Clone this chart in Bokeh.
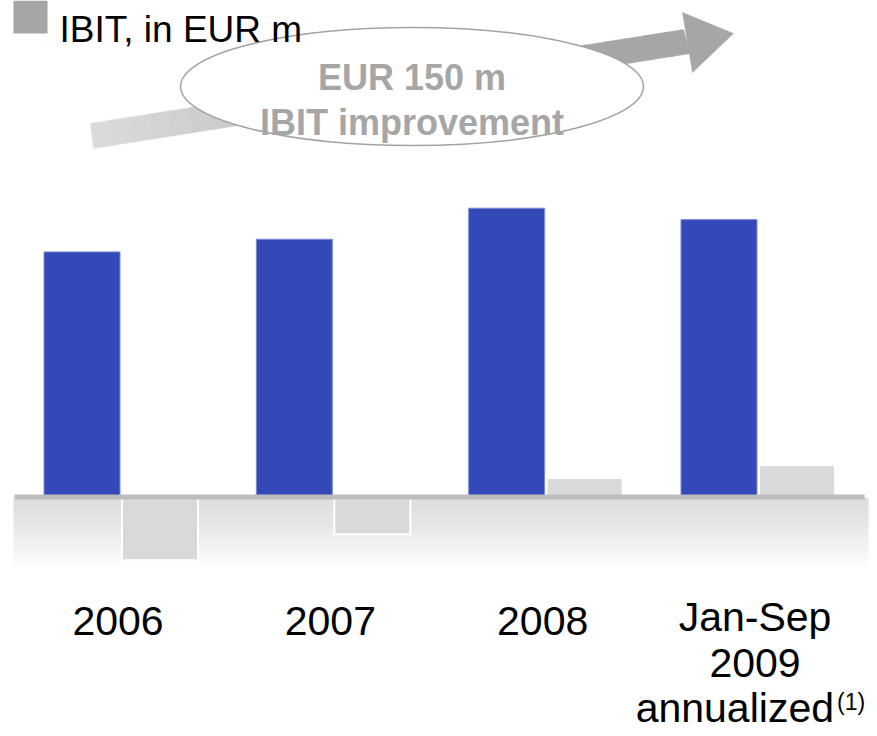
from bokeh.plotting import figure
from bokeh.models import Range1d, ColumnDataSource
from bokeh.core.properties import value
from bokeh.embed import file_html
from bokeh.resources import INLINE

# ---------------- data ----------------
categories = ["2006", "2007", "2008", "Jan-Sep\n2009\nannualized"]
footnote = "(1)"
blue_values = [387, 407, 456, 438]          # unlabelled blue series
ibit_values = [-100, -59, 30, 50]           # IBIT, in EUR m
legend_label = "IBIT, in EUR m"
callout_lines = ["EUR 150 m", "IBIT improvement"]

# ---------------- layout helpers ----------------
W, H = 877, 736
FONT = "Liberation Sans"
LABEL_PX = 41


def X(sx):
    return sx


def Y(sy):
    return H - sy


GROUP0 = X(120.5)
STEP = 212.33
x_start = -GROUP0 / STEP
x_end = x_start + W / STEP
PX_PER_M = 95 / 150
ZERO_PX = Y(496.5)
y_start = -ZERO_PX / PX_PER_M
y_end = y_start + H / PX_PER_M

p = figure(width=W, height=H, output_backend="svg", toolbar_location=None,
           x_range=Range1d(x_start, x_end), y_range=Range1d(y_start, y_end),
           x_axis_location=None, y_axis_location=None, min_border=0,
           background_fill_color="white", border_fill_color="white")
p.outline_line_color = None
p.xgrid.visible = False
p.ygrid.visible = False
p.extra_x_ranges = {"px": Range1d(0, W)}
p.extra_y_ranges = {"px": Range1d(0, H)}

# ---------------- floor gradient ----------------
N = 36
g_top, g_bot = 497, 569
gl, gr, gt, gb, gc = [], [], [], [], []
for k in range(N):
    y0 = g_top + (g_bot - g_top) * k / N
    y1 = g_top + (g_bot - g_top) * (k + 1) / N + 0.3
    t = k / (N - 1)
    c = int(0xdb + (0xff - 0xdb) * (t ** 1.2))
    gl.append(X(13)); gr.append(X(868)); gt.append(Y(y0)); gb.append(Y(y1))
    gc.append("#%02x%02x%02x" % (c, c, c))
p.quad(left=gl, right=gr, top=gt, bottom=gb, fill_color=gc, line_color=None,
       x_range_name="px", y_range_name="px")

# ---------------- bars ----------------
idx = list(range(len(categories)))
off = 39 / STEP
bw = 76 / STEP
src = ColumnDataSource(dict(
    xb=[i - off for i in idx], xg=[i + off for i in idx],
    blue=blue_values, ibit=ibit_values))
p.vbar(x="xb", top="blue", bottom=0, width=bw, source=src,
       fill_color="#3349b7", line_color="#7d8dd6", line_width=1)
p.vbar(x="xg", top="ibit", bottom=0, width=bw, source=src,
       fill_color="#d9d9d9", line_color="white", line_width=2)

# baseline
p.quad(left=[X(14)], right=[X(864)], top=[Y(494)], bottom=[Y(499)],
       fill_color="#bdbdbd", line_color=None,
       x_range_name="px", y_range_name="px")

# ---------------- arrow ----------------
A, B = (90, 123), (683, 29)
C, D = (93, 148), (690, 53)
NS = 30
xs, ys, cols = [], [], []
for k in range(NS):
    t0 = k / NS
    t1 = min(1.0, (k + 1) / NS + 0.004)
    pts = [(A[0] + t0 * (B[0] - A[0]), A[1] + t0 * (B[1] - A[1])),
           (A[0] + t1 * (B[0] - A[0]), A[1] + t1 * (B[1] - A[1])),
           (C[0] + t1 * (D[0] - C[0]), C[1] + t1 * (D[1] - C[1])),
           (C[0] + t0 * (D[0] - C[0]), C[1] + t0 * (D[1] - C[1]))]
    xs.append([X(q[0]) for q in pts])
    ys.append([Y(q[1]) for q in pts])
    tm = min(1.0, ((k + 0.5) / NS) / 0.75)
    c = int(0xdc + (0xa6 - 0xdc) * tm)
    cols.append("#%02x%02x%02x" % (c, c, c))
head = [(682, 12), (733, 33), (692, 72)]
xs.append([X(q[0]) for q in head])
ys.append([Y(q[1]) for q in head])
cols.append("#a6a6a6")
p.patches(xs=xs, ys=ys, fill_color=cols, line_color=cols, line_width=0.5,
          x_range_name="px", y_range_name="px")

# ---------------- callout ellipse ----------------
p.ellipse(x=[X(411.5)], y=[Y(86)], width=463, height=118,
          fill_color="white", line_color="#a3a3a3", line_width=1.5,
          x_range_name="px", y_range_name="px")
p.text(x=[X(411.5)] * 2, y=[Y(77), Y(122)], text=callout_lines,
       text_font=value(FONT), text_font_size="36px", text_font_style="bold",
       text_color="#a6a6a6", text_align="center", text_baseline="alphabetic",
       x_range_name="px", y_range_name="px")

# ---------------- legend ----------------
p.quad(left=[X(13)], right=[X(47)], top=[Y(0)], bottom=[Y(33)],
       fill_color="#a6a6a6", line_color=None,
       x_range_name="px", y_range_name="px")
p.text(x=[X(59)], y=[Y(29)], text=[legend_label],
       text_font=value(FONT), text_font_size="37px", text_color="black",
       text_align="left", text_baseline="alphabetic",
       x_range_name="px", y_range_name="px")

# ---------------- category labels ----------------
MID = 0.35 * LABEL_PX
lx, ly, lt = [], [], []
mx, my, mt = [], [], []
for i, cat in enumerate(categories):
    lines = cat.split("\n")
    base = 635 if len(lines) == 1 else 631
    for j, ln in enumerate(lines):
        yy = Y(base + j * 45.5 - MID)
        if len(lines) > 1 and j == len(lines) - 1:
            mx.append(i); my.append(yy); mt.append(ln)
        else:
            lx.append(i); ly.append(yy); lt.append(ln)
p.text(x=lx, y=ly, text=lt, text_font=value(FONT),
       text_font_size="%dpx" % LABEL_PX,
       text_color="black", text_align="center", text_baseline="middle",
       x_offset=-3, y_range_name="px")
p.text(x=mx, y=my, text=mt, text_font=value(FONT),
       text_font_size="%dpx" % LABEL_PX,
       text_color="black", text_align="right", text_baseline="middle",
       x_offset=76, y_range_name="px")
p.text(x=mx, y=[v + 6 for v in my], text=[footnote], text_font=value(FONT),
       text_font_size="23px", text_color="black", text_align="left",
       text_baseline="middle", x_offset=79, y_range_name="px")

open("out.html", "w").write(file_html(p, INLINE))
